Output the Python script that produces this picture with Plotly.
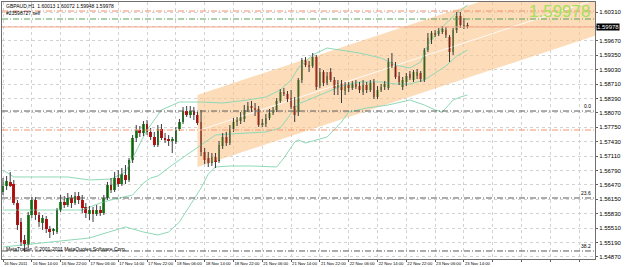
import plotly.graph_objects as go

# ---------------- data ----------------
symbol_title = "GBPAUD,H1  1.60013 1.60072 1.59948 1.59978"
order_label = "#23598727 sell"
copyright_text = "MetaTrader, © 2001-2011 MetaQuotes Software Corp."
last_price = 1.59978

bar_index = list(range(130))

open_ = [1.56310, 1.56444, 1.56533, 1.56488, 1.56066, 1.55644, 1.55244, 1.55133, 1.55799, 1.56133,
         1.55799, 1.55621, 1.55710, 1.55488, 1.55444, 1.55421, 1.55910, 1.56088, 1.56021, 1.56177,
         1.56066, 1.56221, 1.56133, 1.55977, 1.55821, 1.55910, 1.55821, 1.55910, 1.55844, 1.56177,
         1.56466, 1.56355, 1.56621, 1.56488, 1.56688, 1.56577, 1.57021, 1.57510, 1.57688, 1.57621,
         1.57821, 1.57644, 1.57533, 1.57355, 1.57710, 1.57510, 1.57466, 1.57444, 1.57421, 1.57710,
         1.57866, 1.58110, 1.58021, 1.58110, 1.58021, 1.57866, 1.57199, 1.57066, 1.56955, 1.57088,
         1.56999, 1.57333, 1.57533, 1.57399, 1.57710, 1.57866, 1.57888, 1.57933, 1.58133, 1.58221,
         1.58177, 1.58155, 1.57821, 1.57821, 1.57955, 1.58066, 1.58133, 1.58333, 1.58533, 1.58488,
         1.58399, 1.58221, 1.58088, 1.58799, 1.59244, 1.59133, 1.59110, 1.59310, 1.58666, 1.58977,
         1.58733, 1.58977, 1.58799, 1.58621, 1.58733, 1.58555, 1.58688, 1.58621, 1.58710, 1.58666,
         1.58533, 1.58688, 1.58577, 1.58755, 1.58421, 1.58577, 1.58644, 1.58621, 1.59199, 1.59133,
         1.58888, 1.58644, 1.58755, 1.58933, 1.58799, 1.58888, 1.58955, 1.58799, 1.59466, 1.59688,
         1.59844, 1.59821, 1.59866, 1.59910, 1.59755, 1.59421, 1.59910, 1.60221, 1.59999, 1.60013]
high = [1.56621, 1.56666, 1.56755, 1.56577, 1.56133, 1.55733, 1.55355, 1.55866, 1.56199, 1.56199,
        1.55866, 1.55799, 1.55777, 1.55555, 1.55510, 1.55955, 1.56244, 1.56221, 1.56288, 1.56244,
        1.56310, 1.56310, 1.56244, 1.56066, 1.55999, 1.55977, 1.56021, 1.55999, 1.56244, 1.56533,
        1.56621, 1.56755, 1.56799, 1.56844, 1.56910, 1.57066, 1.57577, 1.57799, 1.57777, 1.57888,
        1.57910, 1.57733, 1.57644, 1.57799, 1.57821, 1.57621, 1.57577, 1.57533, 1.57755, 1.57933,
        1.58199, 1.58221, 1.58221, 1.58199, 1.58088, 1.58133, 1.57288, 1.57199, 1.57177, 1.57177,
        1.57444, 1.57621, 1.57644, 1.57799, 1.57955, 1.57977, 1.58088, 1.58244, 1.58310, 1.58333,
        1.58288, 1.58221, 1.57933, 1.58044, 1.58155, 1.58199, 1.58399, 1.58599, 1.58621, 1.58555,
        1.58577, 1.58421, 1.58844, 1.59288, 1.59310, 1.59221, 1.59399, 1.59355, 1.59066, 1.59021,
        1.58977, 1.59066, 1.58866, 1.58799, 1.58799, 1.58755, 1.58755, 1.58777, 1.58799, 1.58755,
        1.58799, 1.58755, 1.58799, 1.58821, 1.58666, 1.58710, 1.58777, 1.59288, 1.59399, 1.59199,
        1.58977, 1.58866, 1.58955, 1.58999, 1.59021, 1.59044, 1.58999, 1.59510, 1.59844, 1.59888,
        1.59910, 1.59955, 1.59999, 1.59977, 1.59799, 1.59955, 1.60310, 1.60310, 1.60177, 1.60072]
low = [1.56244, 1.56355, 1.56421, 1.56021, 1.55466, 1.55110, 1.54977, 1.55066, 1.55733, 1.55688,
       1.55533, 1.55466, 1.55399, 1.55288, 1.55355, 1.55377, 1.55866, 1.55955, 1.55977, 1.55955,
       1.56021, 1.56044, 1.55844, 1.55733, 1.55688, 1.55644, 1.55777, 1.55777, 1.55799, 1.56133,
       1.56288, 1.56310, 1.56421, 1.56444, 1.56488, 1.56533, 1.56955, 1.57421, 1.57533, 1.57555,
       1.57577, 1.57466, 1.57310, 1.57310, 1.57466, 1.57399, 1.57333, 1.57177, 1.57377, 1.57666,
       1.57821, 1.57977, 1.57955, 1.57910, 1.57799, 1.57110, 1.56933, 1.56866, 1.56888, 1.56844,
       1.56955, 1.57266, 1.57333, 1.57355, 1.57644, 1.57777, 1.57821, 1.57866, 1.58088, 1.58088,
       1.57999, 1.57755, 1.57755, 1.57755, 1.57910, 1.58021, 1.58088, 1.58288, 1.58444, 1.58310,
       1.58155, 1.57866, 1.57999, 1.58733, 1.59088, 1.58977, 1.59066, 1.58577, 1.58621, 1.58666,
       1.58688, 1.58755, 1.58466, 1.58466, 1.58288, 1.58466, 1.58533, 1.58577, 1.58599, 1.58510,
       1.58466, 1.58510, 1.58533, 1.58377, 1.58377, 1.58533, 1.58577, 1.58577, 1.59066, 1.58821,
       1.58688, 1.58577, 1.58666, 1.58799, 1.58755, 1.58821, 1.58755, 1.58755, 1.59421, 1.59599,
       1.59755, 1.59777, 1.59821, 1.59733, 1.59199, 1.59355, 1.59844, 1.59955, 1.59933, 1.59948]
close = [1.56444, 1.56555, 1.56444, 1.56066, 1.55577, 1.55199, 1.55155, 1.55799, 1.56133, 1.55799,
         1.55644, 1.55733, 1.55488, 1.55421, 1.55466, 1.55910, 1.56088, 1.56021, 1.56177, 1.56066,
         1.56221, 1.56133, 1.55955, 1.55844, 1.55910, 1.55821, 1.55910, 1.55844, 1.56177, 1.56466,
         1.56355, 1.56621, 1.56488, 1.56710, 1.56577, 1.57021, 1.57510, 1.57688, 1.57621, 1.57821,
         1.57644, 1.57533, 1.57355, 1.57710, 1.57510, 1.57466, 1.57444, 1.57466, 1.57688, 1.57866,
         1.58110, 1.58021, 1.58110, 1.58021, 1.57844, 1.57199, 1.57021, 1.56955, 1.57088, 1.56977,
         1.57355, 1.57533, 1.57399, 1.57710, 1.57866, 1.57910, 1.57977, 1.58133, 1.58221, 1.58177,
         1.58133, 1.57799, 1.57844, 1.57955, 1.58066, 1.58133, 1.58333, 1.58533, 1.58488, 1.58377,
         1.58199, 1.58021, 1.58799, 1.59244, 1.59133, 1.59110, 1.59310, 1.58644, 1.58977, 1.58733,
         1.58888, 1.58799, 1.58621, 1.58733, 1.58577, 1.58688, 1.58621, 1.58710, 1.58644, 1.58577,
         1.58688, 1.58577, 1.58733, 1.58421, 1.58577, 1.58644, 1.58710, 1.59199, 1.59110, 1.58866,
         1.58755, 1.58799, 1.58888, 1.58844, 1.58977, 1.58977, 1.58821, 1.59466, 1.59733, 1.59844,
         1.59821, 1.59888, 1.59933, 1.59799, 1.59421, 1.59910, 1.60221, 1.60021, 1.60021, 1.59978]

# Bollinger bands (bar index, price)
bb_upper_idx = [0, 3, 9, 18, 24, 30, 34, 38, 40, 44, 49, 55, 61, 68, 73, 77, 80, 82, 86, 90,
                94, 99, 105, 109, 113, 116, 118, 122, 126, 129]
bb_upper = [1.56799, 1.56644, 1.56644, 1.56644, 1.56577, 1.56599, 1.56755, 1.57355, 1.57688, 1.58133,
            1.58310, 1.58310, 1.58288, 1.58355, 1.58421, 1.58577, 1.58799, 1.59066, 1.59355, 1.59510,
            1.59466, 1.59399, 1.59288, 1.59133, 1.59066, 1.59199, 1.59577, 1.59977, 1.60288, 1.60466]
bb_mid_idx = [0, 9, 18, 22, 27, 30, 36, 39, 41, 43, 47, 51, 55, 59, 63, 68, 73, 77, 82, 86,
              90, 94, 99, 105, 109, 113, 117, 120, 123, 126, 129]
bb_mid = [1.55910, 1.55910, 1.55910, 1.55910, 1.56066, 1.56133, 1.56244, 1.56510, 1.56621, 1.56666,
          1.56910, 1.57133, 1.57355, 1.57577, 1.57599, 1.57621, 1.57644, 1.57733, 1.58266, 1.58399,
          1.58533, 1.58666, 1.58755, 1.58755, 1.58710, 1.58710, 1.58799, 1.58955, 1.59110, 1.59333, 1.59466]
bb_lower_idx = [0, 11, 18, 24, 34, 39, 43, 46, 49, 52, 55, 57, 59, 63, 69, 76, 78, 81, 82, 84,
                87, 90, 94, 96, 101, 107, 113, 117, 120, 122, 125, 127, 129]
bb_lower = [1.55088, 1.55177, 1.55244, 1.55288, 1.55533, 1.55421, 1.55355, 1.55421, 1.55644, 1.56021,
            1.56399, 1.56710, 1.56866, 1.56888, 1.56888, 1.56866, 1.57066, 1.57421, 1.57466, 1.57399,
            1.57466, 1.57533, 1.57866, 1.58088, 1.58177, 1.58244, 1.58355, 1.58244, 1.58133, 1.58088,
            1.58355, 1.58421, 1.58466]

# Regression channel (ray)
channel_idx = [54, 129]
channel_mid = [1.57668, 1.59648]
channel_half_width = 0.0080

# Horizontal levels
stop_level = 1.60333
order_level = 1.60155
extra_level = 1.57688
fibo_levels = [1.58110, 1.56177, 1.54999]
fibo_labels = ["0.0", "23.6", "38.2"]

# Axis ticks
date_tick_bars = [0, 8, 16, 24, 32, 40, 48, 56, 64, 72, 80, 88, 96, 104, 112, 120, 128, 136, 144, 152, 160]
date_tick_labels = ["16 Nov 2011", "16 Nov 14:00", "16 Nov 22:00", "17 Nov 06:00", "17 Nov 14:00",
                    "17 Nov 22:00", "18 Nov 06:00", "18 Nov 14:00", "18 Nov 22:00", "21 Nov 06:00",
                    "21 Nov 14:00", "21 Nov 22:00", "22 Nov 06:00", "22 Nov 14:00", "22 Nov 22:00",
                    "23 Nov 06:00", "23 Nov 14:00", "", "", "", ""]
price_ticks = [1.60310, 1.59990, 1.59670, 1.59350, 1.59030, 1.58710, 1.58390, 1.58070, 1.57750,
               1.57430, 1.57110, 1.56790, 1.56470, 1.56150, 1.55830, 1.55510, 1.55190, 1.54870]

x_range = [-0.28, 164.4]
y_range = [1.54821, 1.60533]

BULL = "#22a022"
BEAR = "#ee0000"
WICK = "#3a3a3a"
BAND = "#8fd9b6"
FONT = "Liberation Sans, Arial, sans-serif"
MT_DASHDOT = "6px,2px,1px,2px"

fig = go.Figure()

# channel fill (ray extended to right edge)
slope = (channel_mid[1] - channel_mid[0]) / (channel_idx[1] - channel_idx[0])
x_end = x_range[1] + 2
mid_end = channel_mid[0] + slope * (x_end - channel_idx[0])
cx = [channel_idx[0], x_end, x_end, channel_idx[0], channel_idx[0]]
cy = [channel_mid[0] + channel_half_width, mid_end + channel_half_width,
      mid_end - channel_half_width, channel_mid[0] - channel_half_width,
      channel_mid[0] + channel_half_width]
fig.add_trace(go.Scatter(x=cx, y=cy, fill="toself", fillcolor="rgba(250,197,138,0.6)",
                         line=dict(width=0), mode="lines", hoverinfo="skip"))
fig.add_trace(go.Scatter(x=[channel_idx[0], x_end], y=[channel_mid[0], mid_end], mode="lines",
                         line=dict(color="rgba(255,255,255,0.85)", width=1), hoverinfo="skip"))

# Bollinger bands
for xs, ys in ((bb_upper_idx, bb_upper), (bb_mid_idx, bb_mid), (bb_lower_idx, bb_lower)):
    fig.add_trace(go.Scatter(x=xs, y=ys, mode="lines", line=dict(color=BAND, width=1),
                             hoverinfo="skip"))

# wicks
wx, wy = [], []
for i, h, l in zip(bar_index, high, low):
    wx += [i, i, None]
    wy += [l, h, None]
fig.add_trace(go.Scatter(x=wx, y=wy, mode="lines", line=dict(color=WICK, width=1), hoverinfo="skip"))

# bodies
body_base = [min(o, c) for o, c in zip(open_, close)]
body_h = [max(abs(c - o), 0.00004) for o, c in zip(open_, close)]
body_col = [BULL if c >= o else BEAR for o, c in zip(open_, close)]
fig.add_trace(go.Bar(x=bar_index, y=body_h, base=body_base, width=0.75,
                     marker=dict(color=body_col, line=dict(width=0))))

# horizontal lines
shapes = []
def hline(y, color, dash, width=1):
    shapes.append(dict(type="line", xref="paper", x0=0, x1=1, yref="y", y0=y, y1=y,
                       line=dict(color=color, dash=dash, width=width)))
hline(stop_level, "#f0906c", MT_DASHDOT)
hline(order_level, "#5aa05a", MT_DASHDOT)
hline(last_price, "#f4a488", "solid")
hline(extra_level, "#f59570", MT_DASHDOT)
for lv in fibo_levels:
    hline(lv, "#5a5a5a", MT_DASHDOT)

annotations = [
    dict(text=symbol_title, xref="paper", yref="paper", x=0.003, y=1, xanchor="left", yanchor="top",
         yshift=1, showarrow=False, font=dict(size=5, color="#000000", family=FONT)),
    dict(text=order_label, xref="paper", yref="y", x=0.003, y=order_level, xanchor="left",
         yanchor="bottom", yshift=1, showarrow=False, font=dict(size=5, color="#000000", family=FONT)),
    dict(text=copyright_text, xref="paper", yref="paper", x=0.003, y=0, xanchor="left",
         yanchor="bottom", yshift=5, showarrow=False, font=dict(size=5, color="#000000", family=FONT)),
    dict(text=f"{last_price:.5f}", xref="paper", yref="paper", x=0.995, y=1.0, xanchor="right",
         yanchor="top", yshift=2, showarrow=False,
         font=dict(size=17, color="#a4e05a", family="Liberation Sans")),
    dict(text=f"{last_price:.5f}", xref="paper", yref="y", x=1.0, y=last_price, xanchor="left",
         yanchor="middle", xshift=1, showarrow=False, bgcolor="#000000", borderpad=0,
         font=dict(size=6, color="#ffffff", family=FONT)),
]
for lv, lb in zip(fibo_levels, fibo_labels):
    annotations.append(dict(text=lb, xref="paper", yref="y", x=0.997, y=lv, xanchor="right",
                            yanchor="bottom", showarrow=False,
                            font=dict(size=5, color="#000000", family=FONT)))

# the tick label that sits under the current-price box is hidden, as in the terminal
price_tick_text = ["" if abs(p - last_price) < 0.0012 else f"{p:.5f}" for p in price_ticks]

fig.update_layout(
    width=625, height=267,
    margin=dict(l=2, r=30, t=2, b=8),
    paper_bgcolor="#ffffff", plot_bgcolor="#ffffff",
    showlegend=False, bargap=0,
    shapes=shapes, annotations=annotations,
    font=dict(family=FONT, size=6, color="#000000"),
)
fig.update_xaxes(range=x_range, tickmode="array", tickvals=date_tick_bars, ticktext=date_tick_labels,
                 ticks="outside", ticklen=2, tickcolor="#606060", ticklabelposition="outside right",
                 tickangle=0, automargin=False,
                 showgrid=True, gridcolor="#d2d2d2", griddash="dot", gridwidth=1,
                 showline=True, linecolor="#707070", mirror=True, zeroline=False,
                 tickfont=dict(size=4.2, family=FONT), fixedrange=True)
fig.update_yaxes(range=y_range, side="right", tickmode="array", tickvals=price_ticks,
                 ticktext=price_tick_text, automargin=False,
                 ticks="outside", ticklen=2, tickcolor="#606060",
                 showgrid=True, gridcolor="#d2d2d2", griddash="dot", gridwidth=1,
                 showline=True, linecolor="#707070", mirror=True, zeroline=False,
                 tickfont=dict(size=6, family=FONT), fixedrange=True)

fig.write_html("out.html")
